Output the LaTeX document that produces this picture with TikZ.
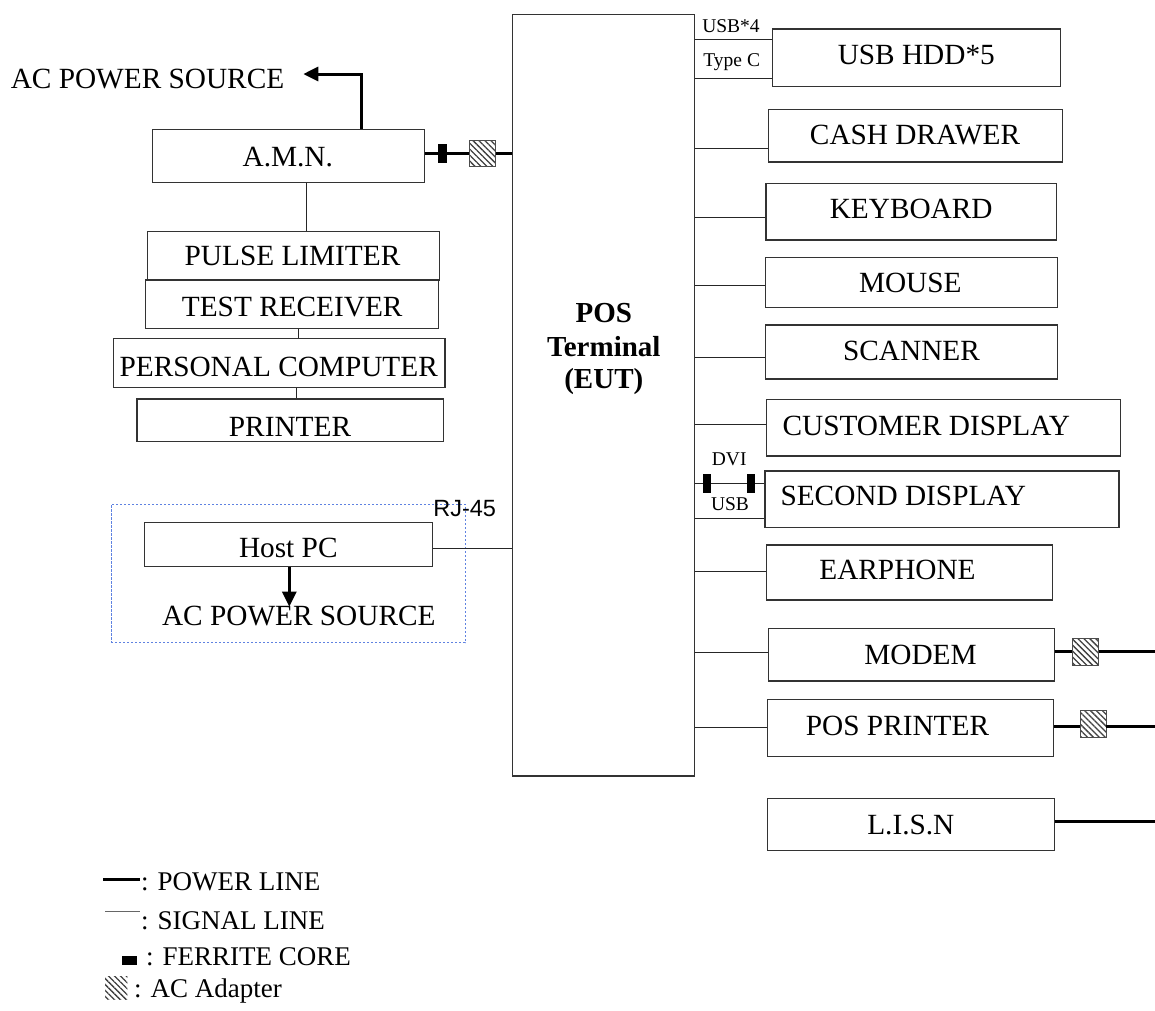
\documentclass[tikz,border=0pt]{standalone}
\usepackage{fontspec}
\setmainfont{Liberation Serif}
\newfontfamily\rjsans{Liberation Sans}
\usetikzlibrary{arrows.meta,patterns.meta}
\definecolor{grpblue}{RGB}{95,130,225}
\newcommand\fmain{\fontsize{29.3}{34}\selectfont}
\newcommand\fsmall{\fontsize{19.5}{22}\selectfont}
\newcommand\flegend{\fontsize{27}{31}\selectfont}
\begin{document}
\begin{tikzpicture}[x=1pt,y=-1pt,
  box/.style={draw=black!80,line width=1.1pt,rectangle,inner sep=0pt},
  txt/.style={anchor=base,inner sep=0pt,font=\fmain},
  stxt/.style={anchor=base,inner sep=0pt,font=\fsmall},
  ltxt/.style={anchor=base west,inner sep=0pt,font=\flegend},
  sig/.style={draw=black!85,line width=1pt},
  pow/.style={draw=black,line width=3pt},
  ferrite/.style={fill=black,draw=none,rectangle,inner sep=0pt},
  adapter/.style={draw=black!70,line width=0.8pt,rectangle,inner sep=0pt,
    preaction={fill=white},
    pattern={Lines[angle=-45,distance=4.2pt,line width=1.3pt]},pattern color=black!75},
  acarrow/.style={pow,-{Triangle[length=15pt,width=14pt]}}]
\useasboundingbox (0,0) rectangle (1155,1010);

% ---- EUT ----
\node[box,minimum width=182.4pt,minimum height=761.7pt] (eut) at (603.5,395.15) {};
\node[txt,font=\fontsize{29}{33}\selectfont\bfseries] (eut1) at (603.8,322.7) {POS};
\node[txt,font=\fontsize{29}{33}\selectfont\bfseries] (eut2) at (603.8,356) {Terminal};
\node[txt,font=\fontsize{29}{33}\selectfont\bfseries] (eut3) at (603.8,388.3) {(EUT)};

% ---- right-hand boxes ----
\node[box,minimum width=288pt,minimum height=57.7pt] (usbhdd) at (916.7,57.85) {};
\node[txt] (tusbhdd) at (916.3,64) {USB HDD*5};
\node[box,minimum width=294pt,minimum height=52.7pt] (cash) at (915.3,135.65) {};
\node[txt] (tcash) at (915,144) {CASH DRAWER};
\node[box,minimum width=290.7pt,minimum height=56.7pt] (keyb) at (911.35,211.65) {};
\node[txt] (tkeyb) at (911.2,218.3) {KEYBOARD};
\node[box,minimum width=292.4pt,minimum height=50pt] (mouse) at (911.5,282.3) {};
\node[txt] (tmouse) at (910.3,292.7) {MOUSE};
\node[box,minimum width=292.4pt,minimum height=54pt] (scan) at (911.5,352) {};
\node[txt] (tscan) at (911.5,360) {SCANNER};
\node[box,minimum width=354pt,minimum height=56.7pt] (cust) at (943.7,427.65) {};
\node[txt] (tcust) at (926.3,435) {CUSTOMER DISPLAY};
\node[box,minimum width=354pt,minimum height=56.7pt] (second) at (942,499.35) {};
\node[txt] (tsecond) at (903.3,505.7) {SECOND DISPLAY};
\node[box,minimum width=286pt,minimum height=55pt] (ear) at (909.7,572.5) {};
\node[txt] (tear) at (897.5,579.5) {EARPHONE};
\node[box,minimum width=286pt,minimum height=52.7pt] (modem) at (911.3,654.65) {};
\node[txt] (tmodem) at (920.5,664.3) {MODEM};
\node[box,minimum width=286pt,minimum height=57.4pt] (posp) at (910.3,728) {};
\node[txt] (tposp) at (897.5,735.7) {POS PRINTER};
\node[box,minimum width=287pt,minimum height=52.4pt] (lisn) at (910.8,824.5) {};
\node[txt] (tlisn) at (910.8,834) {L.I.S.N};

% ---- left-hand boxes ----
\node[box,minimum width=272pt,minimum height=53pt] (amn) at (288.3,155.8) {};
\node[txt] (tamn) at (287.8,166) {A.M.N.};
\node[box,minimum width=292pt,minimum height=48.3pt] (pulse) at (293.3,255.85) {};
\node[txt] (tpulse) at (292.5,265) {PULSE LIMITER};
\node[box,minimum width=293.4pt,minimum height=48.7pt] (test) at (292,304.35) {};
\node[txt] (ttest) at (292.2,316.7) {TEST RECEIVER};
\node[box,minimum width=331.7pt,minimum height=49pt] (pc) at (279.15,363.2) {};
\node[txt] (tpc) at (278.7,376) {PERSONAL COMPUTER};
\node[box,minimum width=306.3pt,minimum height=42.7pt] (printer) at (290.15,420.35) {};
\node[txt] (tprinter) at (290,436) {PRINTER};

% ---- host PC group ----
\node[draw=grpblue,line width=1pt,dash pattern=on 2.2pt off 1.8pt,rectangle,inner sep=0pt,
  minimum width=354pt,minimum height=138.7pt] (hostgrp) at (288,573.35) {};
\node[box,minimum width=288pt,minimum height=44.4pt] (host) at (288.3,544.5) {};
\node[txt] (thost) at (288.3,557.3) {Host PC};
\node[txt] (acbot) at (298.8,625.7) {AC POWER SOURCE};
\node[anchor=base,inner sep=0pt,font=\rjsans\fontsize{23.5}{26}\selectfont] (rj) at (464.7,516.7) {RJ-45};

% ---- top AC source ----
\node[txt] (actop) at (147.5,88.3) {AC POWER SOURCE};
\coordinate (actip1) at (303.3,74);
\coordinate (actip2) at (289.3,606.7);

% ---- small port labels ----
\node[stxt] (lusb4) at (731,32.3) {USB*4};
\node[stxt] (ltypec) at (731.7,66.7) {Type C};
\node[stxt] (ldvi) at (729.2,465.7) {DVI};
\node[stxt] (lusb) at (730,510.7) {USB};

% ---- ferrites and adapters ----
\node[ferrite,minimum width=8.4pt,minimum height=18.7pt] (fer1) at (442.5,153.8) {};
\node[adapter,minimum width=26.4pt,minimum height=26.7pt] (ad1) at (482.5,153.5) {};
\node[ferrite,minimum width=7.7pt,minimum height=19pt] (fer2) at (707.15,483.8) {};
\node[ferrite,minimum width=7.7pt,minimum height=19pt] (fer3) at (750.85,483.8) {};
\node[adapter,minimum width=26pt,minimum height=26.7pt] (ad2) at (1085.7,651.7) {};
\node[adapter,minimum width=26pt,minimum height=27.3pt] (ad3) at (1093,723.65) {};
\coordinate (edge2) at (1155,651.7);
\coordinate (edge3) at (1155,726.7);
\coordinate (edge4) at (1155,821);

% ---- power connections ----
\draw[pow] (fer1.west -| amn.east) -- (fer1.west);
\draw[pow] (fer1.east) -- (ad1.west |- fer1.east);
\draw[pow] (ad1.east |- fer1.east) -- (eut.west |- fer1.east);
\draw[acarrow] (amn.north -| 361.7,0) -- (361.7,74) -- (actip1);
\draw[acarrow] (host.south -| actip2) -- (actip2);
\draw[pow] (modem.east |- ad2) -- (ad2.west);
\draw[pow] (ad2.east) -- (edge2);
\draw[pow] (posp.east |- 0,726.7) -- (ad3.west |- 0,726.7);
\draw[pow] (ad3.east |- 0,726.7) -- (edge3);
\draw[pow] (lisn.east |- edge4) -- (edge4);

% ---- signal connections ----
\draw[sig] (amn.south -| 306.7,0) -- (pulse.north -| 306.7,0);
\draw[sig] (test.south -| 298.3,0) -- (pc.north -| 298.3,0);
\draw[sig] (pc.south -| 296.7,0) -- (printer.north -| 296.7,0);
\draw[sig] (host.east |- 0,548.3) -- (eut.west |- 0,548.3);
\draw[sig] (eut.east |- 0,39.3) -- (usbhdd.west |- 0,39.3);
\draw[sig] (eut.east |- 0,78.3) -- (usbhdd.west |- 0,78.3);
\draw[sig] (eut.east |- 0,148.3) -- (cash.west |- 0,148.3);
\draw[sig] (eut.east |- 0,217) -- (keyb.west |- 0,217);
\draw[sig] (eut.east |- 0,285.7) -- (mouse.west |- 0,285.7);
\draw[sig] (eut.east |- 0,357.7) -- (scan.west |- 0,357.7);
\draw[sig] (eut.east |- 0,424) -- (cust.west |- 0,424);
\draw[sig] (eut.east |- fer2) -- (fer2.west);
\draw[sig] (fer2.east) -- (fer3.west);
\draw[sig] (fer3.east) -- (second.west |- fer3);
\draw[sig] (eut.east |- 0,518.7) -- (second.west |- 0,518.7);
\draw[sig] (eut.east |- 0,571.7) -- (ear.west |- 0,571.7);
\draw[sig] (eut.east |- 0,652.3) -- (modem.west |- 0,652.3);
\draw[sig] (eut.east |- 0,727.3) -- (posp.west |- 0,727.3);

% ---- legend ----
\coordinate (lp1) at (103.3,879.3);
\coordinate (lp2) at (140,879.3);
\draw[pow] (lp1) -- (lp2);
\node[ltxt] (lgpow) at (141,890) {: POWER LINE};
\coordinate (ls1) at (105,911.7);
\coordinate (ls2) at (140,911.7);
\draw[sig,draw=black!60] (ls1) -- (ls2);
\node[ltxt] (lgsig) at (141,929.5) {: SIGNAL LINE};
\node[ferrite,minimum width=15pt,minimum height=9.3pt] (lgfer) at (129.8,960.35) {};
\node[ltxt] (lgfert) at (146,965.5) {: FERRITE CORE};
\node[adapter,minimum width=22.3pt,minimum height=22.6pt,draw=none] (lgad) at (116.15,988) {};
\node[ltxt] (lgadt) at (134,997) {: AC Adapter};
\end{tikzpicture}
\end{document}
